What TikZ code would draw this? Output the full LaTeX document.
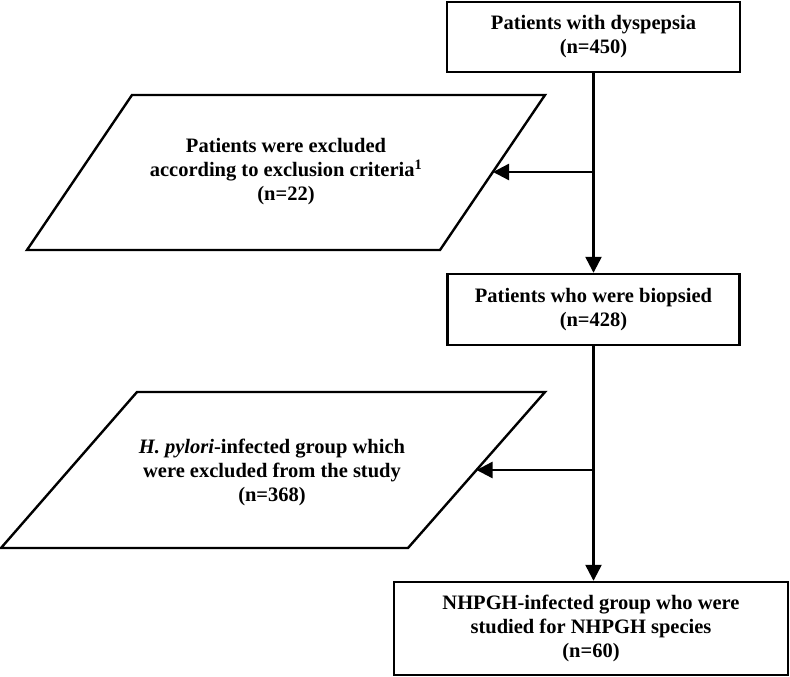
\documentclass[tikz,border=0pt]{standalone}
\usepackage{fontspec}
\setmainfont{Liberation Serif}
\usetikzlibrary{arrows.meta}
\tikzset{
  txt/.style={font=\fontsize{20.5}{24}\selectfont\bfseries, align=center, inner sep=0pt},
  boxnode/.style={txt, draw, line width=2.4pt},
  shapeline/.style={line width=2.4pt, line join=miter},
  conn/.style={line width=2.4pt},
  arr/.style={conn, -{Triangle[length=16pt,width=16pt]}}
}
\begin{document}
\begin{tikzpicture}[x=1pt,y=-1pt]
\useasboundingbox (0,0) rectangle (790,677);
% boxes
\node[boxnode, minimum width=293pt, minimum height=70pt] (b1) at (593.5,37) {Patients with dyspepsia\\(n=450)};
\node[boxnode, minimum width=292pt, minimum height=71pt] (b2) at (593.5,309.5) {Patients who were biopsied\\(n=428)};
\node[boxnode, minimum width=394pt, minimum height=93pt] (b3) at (591,628.5) {NHPGH-infected group who were\\studied for NHPGH species\\(n=60)};
% parallelogram 1
\coordinate (p1tl) at (132,95);
\coordinate (p1tr) at (545,95);
\coordinate (p1br) at (440,250);
\coordinate (p1bl) at (27,250);
\draw[shapeline] (p1tl) -- (p1tr) -- (p1br) -- (p1bl) -- cycle;
\node[txt] (p1) at (286,172) {Patients were excluded\\according to exclusion criteria\textsuperscript{1}\\(n=22)};
\coordinate (p1e) at (493,172);
% parallelogram 2
\coordinate (p2tl) at (137,392);
\coordinate (p2tr) at (545,392);
\coordinate (p2br) at (408,548);
\coordinate (p2bl) at (1,548);
\draw[shapeline] (p2tl) -- (p2tr) -- (p2br) -- (p2bl) -- cycle;
\node[txt] (p2) at (272,472) {\textit{H. pylori}-infected group which\\were excluded from the study\\(n=368)};
\coordinate (p2e) at (476.5,470);
% connectors
\draw[arr] (b1.south) -- (b2.north);
\draw[arr] (b1.south |- p1e) -- (p1e);
\draw[arr] (b2.south) -- (b2.south |- b3.north);
\draw[arr] (b2.south |- p2e) -- (p2e);
\end{tikzpicture}
\end{document}
